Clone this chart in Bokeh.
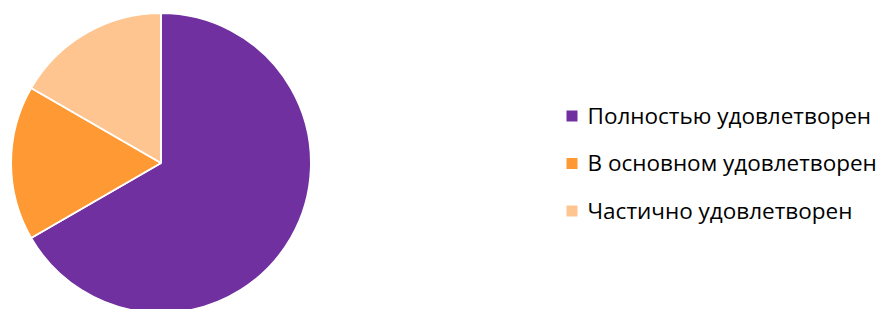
import math
from bokeh.plotting import figure
from bokeh.models import ColumnDataSource, Range1d
from bokeh.core.properties import value
from bokeh.embed import file_html
from bokeh.resources import INLINE

categories = ["Полностью удовлетворен", "В основном удовлетворен", "Частично удовлетворен"]
shares = [4, 1, 1]
colors = ["#7030A0", "#FF9933", "#FFC591"]

W, H = 880, 309
p = figure(width=W, height=H, output_backend="svg", toolbar_location=None,
           x_range=Range1d(0, W), y_range=Range1d(0, H), min_border=0)
p.axis.visible = False
p.grid.visible = False
p.outline_line_color = None
p.background_fill_color = "white"
p.border_fill_color = "white"

total = sum(shares)
starts, ends = [], []
cum = 0
for s in shares:
    starts.append(math.pi / 2 - 2 * math.pi * cum / total)
    cum += s
    ends.append(math.pi / 2 - 2 * math.pi * cum / total)

def py(y_page):
    return H - y_page

def px(x_page):
    return x_page

src = ColumnDataSource(dict(start=starts, end=ends, color=colors, cat=categories))
p.wedge(x=px(160.5), y=py(162.5), radius=150, start_angle="start", end_angle="end",
        direction="clock", fill_color="color", line_color="white", line_width=2, source=src)

ys = [115.5, 163, 210.5]
lsrc = ColumnDataSource(dict(
    x=[px(571.5)] * 3, y=[py(v) for v in ys],
    tx=[px(587)] * 3, ty=[py(v - 1) for v in ys],
    color=colors, cat=categories))
p.rect(x="x", y="y", width=11, height=11, fill_color="color", line_color=None, source=lsrc)
p.text(x="tx", y="ty", text="cat", source=lsrc, text_font=value("Open Sans"),
       text_font_size="22.5px", text_color="#000000", text_baseline="middle", text_align="left")

open("out.html", "w").write(file_html(p, INLINE))
